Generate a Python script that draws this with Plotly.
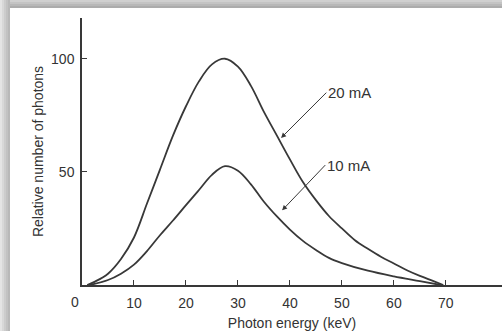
import plotly.graph_objects as go

# Data
energy_20mA = [1, 2.5, 5, 7.5, 10, 12.5, 15, 17.5, 20, 22.5, 25, 27.5, 30, 32.5, 35, 37.5,
               40, 42.5, 45, 47.5, 50, 52.5, 55, 57.5, 60, 62.5, 65, 67.5, 69.5]
photons_20mA = [0, 1.5, 5, 11.5, 21, 36, 51, 66, 79, 90, 97.5, 100, 96.5, 88, 76.5, 66,
                55.5, 45.5, 37.5, 30.5, 25, 19.8, 16, 12.5, 9.5, 6.5, 4, 1.8, 0]

energy_10mA = [1.5, 5, 7.5, 10, 12.5, 15, 17.5, 20, 22.5, 25, 27.5, 30, 32.5, 35, 37.5,
               40, 42.5, 45, 47.5, 50, 55, 60, 65, 69]
photons_10mA = [0, 2.2, 5, 9, 15, 22, 28.5, 35.3, 42, 48.7, 52.5, 50.5, 44.5, 36.8, 30.3,
                24.5, 19.5, 15.5, 12, 9.7, 6.3, 3.8, 1.7, 0]

x_ticks = [10, 20, 30, 40, 50, 60, 70]
y_ticks = [50, 100]

W, H = 502, 331
L, R, T, B = 82, 0, 18, 46
pw, ph = W - L - R, H - T - B

def px_x(px):
    return (px - L) / pw

def px_y(py):
    return (H - B - py) / ph

line_col = "#383838"
text_col = "#333333"
font_fam = "Liberation Sans, Arial, sans-serif"

fig = go.Figure()
fig.add_trace(go.Scatter(x=energy_20mA, y=photons_20mA, mode="lines",
                         line=dict(color=line_col, width=1.8, shape="spline", smoothing=1.0),
                         showlegend=False, hoverinfo="skip"))
fig.add_trace(go.Scatter(x=energy_10mA, y=photons_10mA, mode="lines",
                         line=dict(color=line_col, width=1.8, shape="spline", smoothing=1.0),
                         showlegend=False, hoverinfo="skip"))

# shadow frame (top and left)
shapes = []
left_cols = ["#e4e4e4", "#d8d8d8", "#cccccc", "#c2c2c2", "#b8b8b8"]
for i, c in enumerate(left_cols):
    shapes.append(dict(type="rect", xref="paper", yref="paper", layer="above",
                       x0=px_x(i * 2), x1=px_x(i * 2 + 2), y0=px_y(H), y1=px_y(0),
                       fillcolor=c, line=dict(width=0)))
top_cols = ["#d0d0d0", "#c4c4c4", "#b8b8b8", "#acacac"]
for i, c in enumerate(top_cols):
    shapes.append(dict(type="rect", xref="paper", yref="paper", layer="above",
                       x0=px_x(10), x1=px_x(W), y0=px_y(i * 2 + 2), y1=px_y(i * 2),
                       fillcolor=c, line=dict(width=0)))

annotations = [
    dict(x=38.3, y=65, ax=47, ay=85, xref="x", yref="y", axref="x", ayref="y",
         text="20 mA", showarrow=True, arrowhead=2, arrowsize=1, arrowwidth=1,
         arrowcolor=line_col, xanchor="left", yanchor="middle",
         font=dict(size=15, color=text_col, family=font_fam)),
    dict(x=38.5, y=33, ax=46.8, ay=53, xref="x", yref="y", axref="x", ayref="y",
         text="10 mA", showarrow=True, arrowhead=2, arrowsize=1, arrowwidth=1,
         arrowcolor=line_col, xanchor="left", yanchor="middle",
         font=dict(size=15, color=text_col, family=font_fam)),
    dict(x=0, y=0, xref="x", yref="paper", text="0", showarrow=False,
         xshift=-7, yshift=-17, xanchor="center", yanchor="middle",
         font=dict(size=14, color=text_col, family=font_fam)),
]

fig.update_layout(
    width=W, height=H,
    margin=dict(l=L, r=R, t=T, b=B),
    paper_bgcolor="white", plot_bgcolor="white",
    shapes=shapes, annotations=annotations,
    font=dict(family=font_fam, size=14, color=text_col),
    xaxis=dict(range=[0, 80.8], tickvals=x_ticks, ticktext=[str(v) for v in x_ticks],
               showgrid=False, zeroline=False, showline=True, linecolor=line_col, linewidth=1.5,
               ticks="inside", ticklen=5, tickcolor=line_col, tickwidth=1.2,
               ticklabelstandoff=4,
               title=dict(text="Photon energy (keV)", standoff=9,
                          font=dict(size=14, color=text_col, family=font_fam))),
    yaxis=dict(range=[0, 118], tickvals=y_ticks, ticktext=[str(v) for v in y_ticks],
               showgrid=False, zeroline=False, showline=True, linecolor=line_col, linewidth=1.5,
               ticks="inside", ticklen=5, tickcolor=line_col, tickwidth=1.2,
               ticklabelstandoff=3,
               title=dict(text="Relative number of photons", standoff=4,
                          font=dict(size=14, color=text_col, family=font_fam))),
)

fig.write_html("out.html", config={"displayModeBar": False},
               post_script="document.body.style.margin='0';document.body.style.overflow='hidden';")
